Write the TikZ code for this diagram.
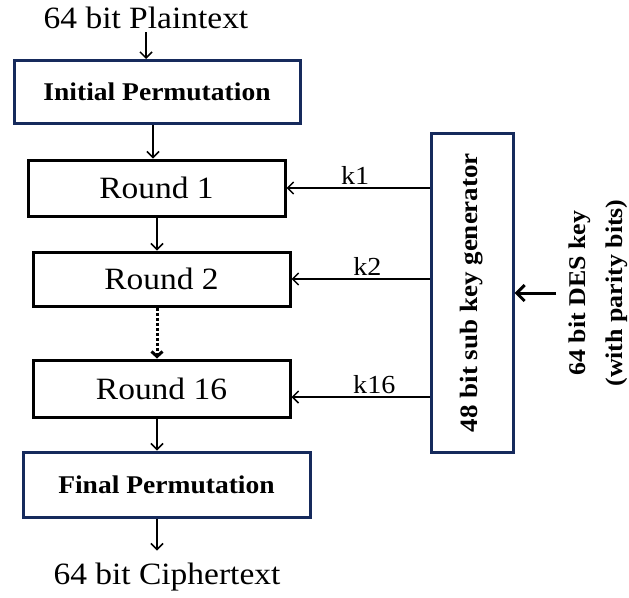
\documentclass[tikz,border=0pt]{standalone}
\usepackage{fontspec}
\setmainfont[FakeStretch=1.08]{Liberation Serif}
\usetikzlibrary{arrows.meta}
\definecolor{navy}{RGB}{22,42,92}
\tikzset{
  navybox/.style={draw=navy, line width=3pt, fill=white, inner sep=0pt},
  roundbox/.style={draw=black, line width=3pt, fill=white, inner sep=0pt, minimum width=257pt,
                   font=\fontsize{31}{33}\selectfont},
  flow/.style={line width=1.5pt, -{Straight Barb[length=6pt,width=12pt]}},
  klabel/.style={font=\fontsize{26}{28}\selectfont, inner sep=3pt}
}
\begin{document}
\begin{tikzpicture}[x=1pt,y=-1pt]
            \useasboundingbox (0,0) rectangle (629,597);

            \node[inner sep=0pt, font=\fontsize{31}{33}\selectfont] (pt) at (146,18) {64 bit Plaintext};
            \node[navybox, minimum width=286pt, minimum height=63pt, font=\bfseries\fontsize{25.5}{27}\selectfont] (ip) at (157,92) {Initial Permutation};
            \node[roundbox, minimum height=56pt] (r1) at (156.5,188) {Round 1};
            \node[roundbox, minimum height=54pt] (r2) at (161.5,279) {Round 2};
            \node[roundbox, minimum height=57pt] (r16) at (161.5,388.5) {Round 16};
            \node[navybox, minimum width=287pt, minimum height=65pt, font=\bfseries\fontsize{25.5}{27}\selectfont] (fp) at (166.5,484.5) {Final Permutation};
            \node[inner sep=0pt, font=\fontsize{31}{33}\selectfont] (ct) at (167,577) {64 bit Ciphertext};

            \node[navybox, minimum width=82pt, minimum height=319pt, font=\bfseries\fontsize{25}{27}\selectfont] (kg) at (472,292.5) {\rotatebox{90}{48 bit sub key generator}};
            \node[inner sep=0pt, rotate=90, align=center, font=\bfseries\fontsize{24}{37}\selectfont] (des) at (598,293) {64 bit DES key\\(with parity bits)};
            \coordinate (kin) at (556,293);

            \draw[flow] (pt.south) ++(0,3) -- (pt.south |- ip.north);
            \draw[flow] (ip.south -| 153,0) -- (r1.north -| 153,0);
            \draw[flow] (r1.south -| 157,0) -- (r2.north -| 157,0);
            \draw[line width=3pt, dotted, -{Straight Barb[length=5pt,width=11pt]}] (r2.south -| 157,0) -- (r16.north -| 157,0);
            \draw[flow] (r16.south -| 157,0) -- (fp.north -| 157,0);
            \draw[flow] (fp.south -| 157,0) -- ++(0,32);

            \draw[flow] (kg.west |- 0,188) -- node[klabel, above, pos=0.52] (k1) {k1} (r1.east |- 0,188);
            \draw[flow] (kg.west |- 0,279) -- node[klabel, above, pos=0.45] (k2) {k2} (r2.east |- 0,279);
            \draw[flow] (kg.west |- 0,397) -- node[klabel, above, pos=0.40] (k16) {k16} (r16.east |- 0,397);
            \draw[line width=3pt, -{Straight Barb[length=8pt,width=16pt]}] (kin) -- (kg.east |- kin);
\end{tikzpicture}
\end{document}
